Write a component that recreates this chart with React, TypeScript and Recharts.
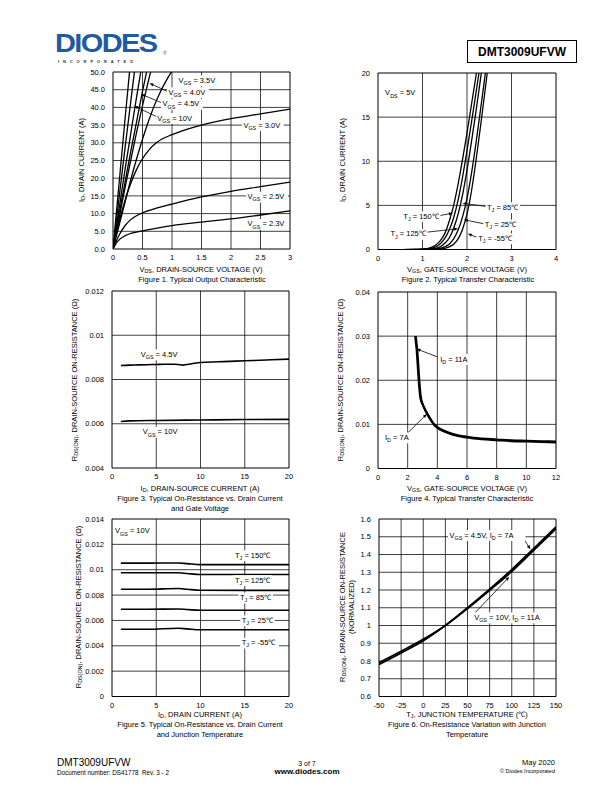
import React from 'react';
import { LineChart, Line, XAxis, YAxis, ReferenceDot, ReferenceLine } from 'recharts';

const FONT = '"Liberation Sans", Arial, Helvetica, sans-serif';

// ---- Figure 1: output characteristic, [VDS (V), ID (A)]
const outSteepA = [[0, 0], [0.05, 9], [0.1, 18], [0.2, 36], [0.3, 53.5]];
const outSteepB = [[0, 0], [0.1, 14], [0.2, 28], [0.3, 41.5], [0.4, 55]];
const outVgs10 = [[0, 0], [0.1, 11], [0.2, 22], [0.3, 32.5], [0.4, 43], [0.5, 53]];
const outVgs45 = [[0, 0], [0.1, 9.5], [0.2, 18.5], [0.3, 27.5], [0.4, 36], [0.5, 44.5], [0.6, 52.5]];
const outVgs40 = [[0, 0], [0.1, 8.5], [0.2, 17], [0.3, 25], [0.4, 33], [0.5, 40.5], [0.6, 47.5], [0.7, 54]];
const outVgs35 = [[0, 0], [0.1, 6.5], [0.2, 13], [0.3, 19.5], [0.4, 25.5], [0.5, 31], [0.6, 36], [0.7, 40.5], [0.8, 44.3], [0.9, 47.5], [1.0, 50.3]];
const outVgs30 = [[0, 0], [0.05, 4], [0.1, 7.5], [0.2, 13.5], [0.3, 18.5], [0.4, 22.5], [0.5, 25.5], [0.6, 27.8], [0.75, 30.2], [1, 32.3], [1.25, 33.8], [1.5, 35], [2, 36.8], [2.5, 38.2], [3, 39.5]];
const outVgs25 = [[0, 0], [0.05, 2], [0.1, 3.8], [0.2, 6.5], [0.3, 8.3], [0.4, 9.4], [0.5, 10.2], [0.75, 11.6], [1, 12.7], [1.5, 14.7], [2, 16.3], [2.5, 17.6], [3, 18.9]];
const outVgs23 = [[0, 0], [0.05, 1.5], [0.1, 2.5], [0.2, 3.7], [0.3, 4.4], [0.5, 5.1], [0.75, 5.9], [1, 6.6], [1.5, 7.6], [2, 8.5], [2.5, 9.6], [3, 10.8]];

// ---- Figure 2: transfer characteristic, [VGS (V), ID (A)]
const trTj150 = [[0.6, 0], [1.0, 0.05], [1.2, 0.25], [1.3, 0.5], [1.4, 1.0], [1.5, 1.8], [1.6, 3.2], [1.7, 5.0], [1.8, 7.4], [1.9, 10.2], [2.0, 13.2], [2.1, 16.4], [2.2, 19.6], [2.3, 22.8]];
const trTj125 = [[0.7, 0], [1.1, 0.05], [1.3, 0.3], [1.4, 0.65], [1.5, 1.25], [1.6, 2.2], [1.7, 3.6], [1.8, 5.6], [1.9, 8.2], [2.0, 11.2], [2.1, 14.4], [2.2, 17.7], [2.3, 21.0]];
const trTj85 = [[0.8, 0], [1.2, 0.05], [1.4, 0.3], [1.5, 0.7], [1.6, 1.3], [1.7, 2.4], [1.8, 4.0], [1.9, 6.2], [2.0, 9.0], [2.1, 12.2], [2.2, 15.6], [2.3, 19.2], [2.4, 22.8]];
const trTj25 = [[0.9, 0], [1.3, 0.05], [1.5, 0.3], [1.6, 0.6], [1.7, 1.2], [1.8, 2.2], [1.9, 3.7], [2.0, 5.8], [2.1, 8.6], [2.2, 12.0], [2.3, 15.7], [2.4, 19.5], [2.5, 23.3]];
const trTjM55 = [[1.0, 0], [1.4, 0.05], [1.6, 0.3], [1.7, 0.6], [1.8, 1.2], [1.9, 2.3], [2.0, 4.0], [2.1, 6.6], [2.2, 10.0], [2.3, 13.8], [2.4, 17.8], [2.5, 21.8]];

// ---- Figure 3: RDS(ON) vs ID and VGS, [ID (A), R (ohm)]
const rdsVgs45 = [[1, 0.00863], [2, 0.00865], [3, 0.00866], [4, 0.00867], [5, 0.00868], [6, 0.00869], [7, 0.00869], [7.5, 0.00868], [8, 0.00865], [9, 0.00871], [10, 0.00877], [12, 0.0088], [14, 0.00883], [16, 0.00886], [18, 0.00889], [20, 0.00892]];
const rdsVgs10 = [[1, 0.0061], [2, 0.00613], [5, 0.00615], [10, 0.00617], [15, 0.00619], [20, 0.0062]];

// ---- Figure 4: RDS(ON) vs VGS, [VGS (V), R (ohm)]
const rvgId11 = [[2.55, 0.03], [2.6, 0.0285], [2.65, 0.027], [2.7, 0.0245], [2.8, 0.0195], [2.9, 0.016], [3.0, 0.0148], [3.2, 0.0133], [3.5, 0.0115], [3.8, 0.01], [4.0, 0.0094], [4.5, 0.0085], [5, 0.0079], [6, 0.0072], [7, 0.0068], [8, 0.0066], [9, 0.0064], [10, 0.0063], [11, 0.0062], [12, 0.0061]];
const rvgId7 = [[2.5, 0.03], [2.55, 0.0285], [2.6, 0.027], [2.65, 0.0245], [2.75, 0.0195], [2.85, 0.016], [3.0, 0.0145], [3.2, 0.013], [3.5, 0.0112], [3.8, 0.0098], [4, 0.0092], [4.5, 0.0083], [5, 0.0077], [6, 0.007], [7, 0.0066], [8, 0.0064], [9, 0.0062], [10, 0.0061], [11, 0.006], [12, 0.0059]];

// ---- Figure 5: RDS(ON) vs ID and TJ (VGS = 10V)
const tempId = [1, 4, 7.5, 8.5, 10, 15, 20];
const rTj150 = [0.01052, 0.01052, 0.01053, 0.01048, 0.0104, 0.0104, 0.0104];
const rTj125 = [0.00976, 0.00976, 0.00976, 0.0097, 0.00962, 0.00962, 0.00962];
const rTj85 = [0.00846, 0.00846, 0.00852, 0.00846, 0.00838, 0.00837, 0.00837];
const rTj25 = [0.00688, 0.00688, 0.0069, 0.00686, 0.0068, 0.0068, 0.0068];
const rTjM55 = [0.0053, 0.0053, 0.00538, 0.00533, 0.00526, 0.00526, 0.00526];

// ---- Figure 6: normalized RDS(ON) vs TJ
const tjC = [-50, -25, 0, 25, 50, 75, 100, 125, 150];
const normVgs45 = [0.79, 0.855, 0.922, 1.0, 1.1, 1.205, 1.315, 1.435, 1.555];
const normVgs10 = [0.78, 0.845, 0.914, 1.0, 1.095, 1.198, 1.305, 1.425, 1.545];

const pairs = (a: number[][]) => a.map(([x, y]) => ({ x, y }));
const zip = (xs: number[], ys: number[]) => xs.map((x, i) => ({ x, y: ys[i] }));

function RichLabel({ cx, cy, text, anchor = 'start', size = 7.5 }: any) {
  if (typeof cx !== 'number' || typeof cy !== 'number') return null;
  const parts = text.split(/(\{[^}]*\})/).filter(Boolean);
  const sub = size * 0.72;
  let w = 0;
  parts.forEach((s: string) => {
    w += s.startsWith('{') ? (s.length - 2) * sub * 0.6 : s.length * size * 0.54;
  });
  const x0 = anchor === 'end' ? cx - w : cx;
  return (
    <g>
      <rect x={x0 - 1.5} y={cy - size * 0.65} width={w + 3} height={size * 1.45} fill="#fff" />
      <text x={x0} y={cy + size * 0.35} fontSize={size} fontFamily={FONT} fill="#000">
        {parts.map((s: string, i: number) =>
          s.startsWith('{') ? (
            <tspan key={i} fontSize={sub} dy={size * 0.3}>{s.slice(1, -1)}</tspan>
          ) : (
            <tspan key={i} dy={i > 0 && parts[i - 1].startsWith('{') ? -size * 0.3 : 0}>{s}</tspan>
          )
        )}
      </text>
    </g>
  );
}

function Arrow(p: any) {
  const { x1, y1, x2, y2 } = p;
  if ([x1, y1, x2, y2].some((v) => typeof v !== 'number' || isNaN(v))) return null;
  const a = Math.atan2(y2 - y1, x2 - x1);
  const L = 4, W = 1.6;
  const bx = x2 - L * Math.cos(a), by = y2 - L * Math.sin(a);
  const pts = `${x2},${y2} ${bx - W * Math.sin(a)},${by + W * Math.cos(a)} ${bx + W * Math.sin(a)},${by - W * Math.cos(a)}`;
  return (
    <g>
      <line x1={x1} y1={y1} x2={bx} y2={by} stroke="#000" strokeWidth={0.8} />
      <polygon points={pts} fill="#000" />
    </g>
  );
}

function GridSeg(p: any) {
  const { x1, y1, x2, y2, w } = p;
  if ([x1, y1, x2, y2].some((v) => typeof v !== 'number' || isNaN(v))) return null;
  return <line x1={x1} y1={y1} x2={x2} y2={y2} stroke="#000" strokeWidth={w} />;
}

const lbl = (key: string, x: number, y: number, text: string, anchor = 'start') => (
  <ReferenceDot key={key} x={x} y={y} r={0} isFront
    shape={(p: any) => <RichLabel cx={p.cx} cy={p.cy} text={text} anchor={anchor} />} />
);
const arrow = (key: string, from: number[], to: number[]) => (
  <ReferenceLine key={key} isFront segment={[{ x: from[0], y: from[1] }, { x: to[0], y: to[1] }]}
    shape={(p: any) => <Arrow {...p} />} />
);
const gridSeg = (key: string, a: number[], b: number[], w: number) => (
  <ReferenceLine key={key} ifOverflow="visible" segment={[{ x: a[0], y: a[1] }, { x: b[0], y: b[1] }]}
    shape={(p: any) => <GridSeg {...p} w={w} />} />
);
const curve = (key: string, data: any[], w = 1.3, type: any = 'monotone') => (
  <Line key={key} data={data} dataKey="y" stroke="#000" strokeWidth={w} dot={false}
    type={type} isAnimationActive={false} />
);

const tickStyle = { fontSize: 7.5, fill: '#000', fontFamily: FONT };

function Panel({ left, top, w, h, xDomain, xTicks, yDomain, yTicks, fmtY, children }: any) {
  const ML = 60, MT = 8, MR = 10, XH = 20;
  const [x0, x1] = xDomain;
  const [y0, y1] = yDomain;
  return (
    <div style={{ position: 'absolute', left: left - ML, top: top - MT }}>
      <LineChart width={w + ML + MR} height={h + MT + XH} margin={{ top: MT, right: MR, bottom: 0, left: 0 }}>
        <XAxis type="number" dataKey="x" domain={xDomain} ticks={xTicks} allowDataOverflow interval={0}
          axisLine={false} tickLine={false} tickSize={0} tickMargin={6} height={XH} tick={tickStyle} />
        <YAxis type="number" dataKey="y" domain={yDomain} ticks={yTicks} allowDataOverflow interval={0}
          tickFormatter={fmtY} axisLine={false} tickLine={false} tickSize={0} tickMargin={8} width={ML} tick={tickStyle} />
        {xTicks.map((t: number) => gridSeg('gx' + t, [t, y0], [t, y1], t === x0 || t === x1 ? 1 : 0.75))}
        {yTicks.map((t: number) => gridSeg('gy' + t, [x0, t], [x1, t], t === y0 || t === y1 ? 1 : 0.75))}
        {children}
      </LineChart>
    </div>
  );
}

function T({ x, y, children, size = 7.5, align = 'center', bold = false, color = '#000' }: any) {
  const tx = align === 'center' ? '-50%' : align === 'right' ? '-100%' : '0';
  return (
    <div style={{
      position: 'absolute', left: x, top: y, whiteSpace: 'nowrap', fontFamily: FONT, fontSize: size,
      fontWeight: bold ? 700 : 400, color, lineHeight: 1, transform: `translate(${tx}, -50%)`,
    }}>{children}</div>
  );
}

function RotT({ x, y, children }: any) {
  return (
    <div style={{
      position: 'absolute', left: x, top: y, whiteSpace: 'nowrap', fontFamily: FONT, fontSize: 7.5,
      lineHeight: 1, transform: 'translate(-50%, -50%) rotate(-90deg)',
    }}>{children}</div>
  );
}

const S = ({ children }: any) => <sub style={{ fontSize: '0.72em', verticalAlign: '-0.25em' }}>{children}</sub>;

export default function App() {
  return (
    <div style={{ position: 'absolute', left: 0, top: 0, width: 612, height: 792, background: '#fff', overflow: 'hidden' }}>
      {/* header */}
      <div style={{ position: 'absolute', left: 55, top: 30, fontFamily: FONT, fontWeight: 900, fontSize: 29,
        color: '#1d5ba4', letterSpacing: -1.6, lineHeight: '29px', transform: 'scale(1.0, 0.9)', transformOrigin: 'left top' }}>DIODES</div>
      <div style={{ position: 'absolute', left: 163, top: 51, fontFamily: FONT, fontSize: 5, lineHeight: 1, color: '#1d5ba4' }}>®</div>
      <div style={{ position: 'absolute', left: 58, top: 59, fontFamily: FONT, fontSize: 4, fontWeight: 700,
        letterSpacing: 3.9, color: '#333' }}>INCORPORATED</div>
      <div style={{ position: 'absolute', left: 467, top: 40, width: 108, height: 21, border: '1px solid #000',
        display: 'flex', alignItems: 'center', justifyContent: 'center', fontFamily: FONT, fontWeight: 700, fontSize: 12 }}>DMT3009UFVW</div>

      {/* Figure 1 */}
      <Panel left={112.5} top={72} w={177} h={177} xDomain={[0, 3]} xTicks={[0, 0.5, 1, 1.5, 2, 2.5, 3]}
        yDomain={[0, 50]} yTicks={[0, 5, 10, 15, 20, 25, 30, 35, 40, 45, 50]} fmtY={(v: number) => v.toFixed(1)}>
        {curve('a', pairs(outSteepA))}
        {curve('b', pairs(outSteepB))}
        {curve('c', pairs(outVgs10))}
        {curve('d', pairs(outVgs45))}
        {curve('e', pairs(outVgs40))}
        {curve('f', pairs(outVgs35))}
        {curve('g', pairs(outVgs30))}
        {curve('h', pairs(outVgs25))}
        {curve('i', pairs(outVgs23))}
        {arrow('a1', [0.94, 44.4], [0.62, 46.8])}
        {arrow('a2', [0.84, 41.2], [0.48, 43.7])}
        {arrow('a3', [0.75, 37.3], [0.36, 40.4])}
        {lbl('l1', 1.11, 47.7, 'V{GS} = 3.5V')}
        {lbl('l2', 0.94, 44.3, 'V{GS} = 4.0V')}
        {lbl('l3', 0.84, 41.0, 'V{GS} = 4.5V')}
        {lbl('l4', 0.75, 37.0, 'V{GS} = 10V')}
        {lbl('l5', 2.21, 35.0, 'V{GS} = 3.0V')}
        {lbl('l6', 2.28, 14.8, 'V{GS} = 2.5V')}
        {lbl('l7', 2.28, 7.1, 'V{GS} = 2.3V')}
      </Panel>
      <T x={201} y={270}>V<S>DS</S>, DRAIN-SOURCE VOLTAGE (V)</T>
      <T x={202} y={280}>Figure 1. Typical Output Characteristic</T>
      <RotT x={82} y={160}>I<S>D</S>, DRAIN CURRENT (A)</RotT>

      {/* Figure 2 */}
      <Panel left={378} top={72.5} w={178} h={176.5} xDomain={[0, 4]} xTicks={[0, 1, 2, 3, 4]}
        yDomain={[0, 20]} yTicks={[0, 5, 10, 15, 20]} fmtY={(v: number) => String(v)}>
        {curve('t150', pairs(trTj150))}
        {curve('t125', pairs(trTj125))}
        {curve('t85', pairs(trTj85))}
        {curve('t25', pairs(trTj25))}
        {curve('tm55', pairs(trTjM55))}
        {arrow('b1', [2.44, 4.87], [1.9, 5.25])}
        {arrow('b2', [1.39, 3.85], [1.68, 4.11])}
        {arrow('b3', [2.39, 2.91], [1.93, 3.37])}
        {arrow('b4', [1.09, 1.96], [1.8, 2.35])}
        {arrow('b5', [2.22, 1.39], [2.02, 1.78])}
        {lbl('m0', 0.16, 17.75, 'V{DS} = 5V')}
        {lbl('m1', 2.45, 4.8, 'T{J} = 85℃')}
        {lbl('m2', 1.37, 3.77, 'T{J} = 150℃', 'end')}
        {lbl('m3', 2.4, 2.83, 'T{J} = 25℃')}
        {lbl('m4', 1.08, 1.78, 'T{J} = 125℃', 'end')}
        {lbl('m5', 2.25, 1.28, 'T{J} = -55℃')}
      </Panel>
      <T x={467} y={270}>V<S>GS</S>, GATE-SOURCE VOLTAGE (V)</T>
      <T x={468} y={280}>Figure 2. Typical Transfer Characteristic</T>
      <RotT x={343} y={160}>I<S>D</S>, DRAIN CURRENT (A)</RotT>

      {/* Figure 3 */}
      <Panel left={112} top={291} w={177} h={177} xDomain={[0, 20]} xTicks={[0, 5, 10, 15, 20]}
        yDomain={[0.004, 0.012]} yTicks={[0.004, 0.006, 0.008, 0.01, 0.012]} fmtY={(v: number) => String(v)}>
        {curve('r45', pairs(rdsVgs45), 1.6)}
        {curve('r10', pairs(rdsVgs10), 1.6)}
        {lbl('n1', 3.24, 0.00914, 'V{GS} = 4.5V')}
        {lbl('n2', 3.47, 0.00564, 'V{GS} = 10V')}
      </Panel>
      <T x={200} y={489}>I<S>D</S>, DRAIN-SOURCE CURRENT (A)</T>
      <T x={200} y={499}>Figure 3. Typical On-Resistance vs. Drain Current</T>
      <T x={200} y={509}>and Gate Voltage</T>
      <RotT x={75} y={380}>R<S>DS(ON)</S>, DRAIN-SOURCE ON-RESISTANCE (Ω)</RotT>

      {/* Figure 4 */}
      <Panel left={378} top={291.5} w={178} h={176.5} xDomain={[0, 12]} xTicks={[0, 2, 4, 6, 8, 10, 12]}
        yDomain={[0, 0.04]} yTicks={[0, 0.01, 0.02, 0.03, 0.04]} fmtY={(v: number) => String(v)}>
        {curve('i11', pairs(rvgId11), 2)}
        {curve('i7', pairs(rvgId7), 2)}
        {arrow('c1', [4.0, 0.0253], [2.6, 0.0271])}
        {arrow('c2', [1.94, 0.00784], [3.29, 0.01236])}
        {lbl('o1', 4.19, 0.0248, 'I{D} = 11A')}
        {lbl('o2', 0.47, 0.00707, 'I{D} = 7A')}
      </Panel>
      <T x={467} y={489}>V<S>GS</S>, GATE-SOURCE VOLTAGE (V)</T>
      <T x={467} y={499}>Figure 4. Typical Transfer Characteristic</T>
      <RotT x={341} y={380}>R<S>DS(ON)</S>, DRAIN-SOURCE ON-RESISTANCE (Ω)</RotT>

      {/* Figure 5 */}
      <Panel left={112} top={518.5} w={177} h={177.5} xDomain={[0, 20]} xTicks={[0, 5, 10, 15, 20]}
        yDomain={[0, 0.014]} yTicks={[0, 0.002, 0.004, 0.006, 0.008, 0.01, 0.012, 0.014]} fmtY={(v: number) => String(v)}>
        {curve('p150', zip(tempId, rTj150), 1.6)}
        {curve('p125', zip(tempId, rTj125), 1.6)}
        {curve('p85', zip(tempId, rTj85), 1.6)}
        {curve('p25', zip(tempId, rTj25), 1.6)}
        {curve('pm55', zip(tempId, rTjM55), 1.6)}
        {lbl('q0', 0.34, 0.01307, 'V{GS} = 10V')}
        {lbl('q1', 13.9, 0.01115, 'T{J} = 150℃')}
        {lbl('q2', 13.9, 0.00918, 'T{J} = 125℃')}
        {lbl('q3', 14.46, 0.00781, 'T{J} = 85℃')}
        {lbl('q4', 14.66, 0.00601, 'T{J} = 25℃')}
        {lbl('q5', 14.66, 0.00425, 'T{J} = -55℃')}
      </Panel>
      <T x={200} y={715}>I<S>D</S>, DRAIN CURRENT (A)</T>
      <T x={200} y={725}>Figure 5. Typical On-Resistance vs. Drain Current</T>
      <T x={200} y={735}>and Junction Temperature</T>
      <RotT x={79} y={607}>R<S>DS(ON)</S>, DRAIN-SOURCE ON-RESISTANCE (Ω)</RotT>

      {/* Figure 6 */}
      <Panel left={379} top={518.5} w={177} h={177.5} xDomain={[-50, 150]} xTicks={[-50, -25, 0, 25, 50, 75, 100, 125, 150]}
        yDomain={[0.6, 1.6]} yTicks={[0.6, 0.7, 0.8, 0.9, 1, 1.1, 1.2, 1.3, 1.4, 1.5, 1.6]} fmtY={(v: number) => String(v)}>
        {curve('n45', zip(tjC, normVgs45), 1.8)}
        {curve('n10', zip(tjC, normVgs10), 1.8)}
        {arrow('d1', [110.4, 1.514], [121, 1.429])}
        {arrow('d2', [56.7, 1.062], [97.2, 1.274])}
        {lbl('s1', 29.6, 1.51, 'V{GS} = 4.5V, I{D} = 7A')}
        {lbl('s2', 57.5, 1.046, 'V{GS} = 10V, I{D} = 11A')}
      </Panel>
      <T x={467} y={715}>T<S>J</S>, JUNCTION TEMPERATURE (℃)</T>
      <T x={467} y={725}>Figure 6. On-Resistance Variation with Junction</T>
      <T x={467} y={735}>Temperature</T>
      <RotT x={343} y={607}>R<S>DS(ON)</S>, DRAIN-SOURCE ON-RESISTANCE</RotT>
      <RotT x={352} y={607}>(NORMALIZED)</RotT>

      {/* footer */}
      <T x={57} y={763} size={10} align="left">DMT3009UFVW</T>
      <T x={57} y={773} size={6.3} align="left">Document number: DS41778&nbsp; Rev. 3 - 2</T>
      <T x={307} y={763} size={7}>3 of 7</T>
      <T x={307} y={772} size={8} bold>www.diodes.com</T>
      <T x={555} y={763} size={7.5} align="right">May 2020</T>
      <T x={555} y={772} size={5.5} align="right">© Diodes Incorporated</T>
    </div>
  );
}
